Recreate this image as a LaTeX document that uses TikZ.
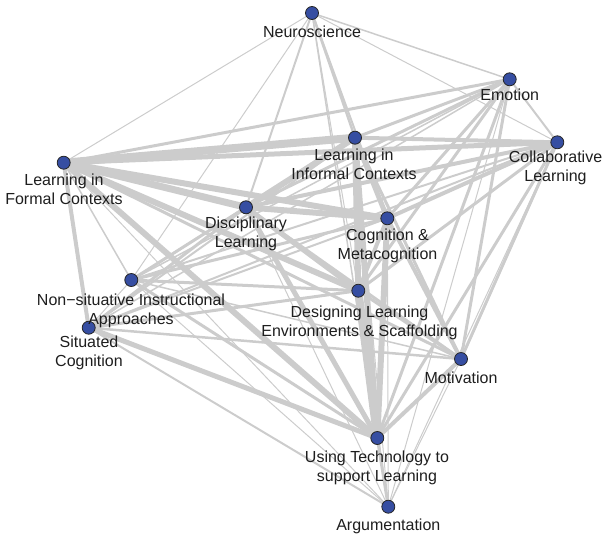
\documentclass[tikz,border=0pt]{standalone}
\usepackage{fontspec}
\setmainfont{Liberation Sans}
\usetikzlibrary{backgrounds}
\definecolor{edgec}{RGB}{204,204,204}
\definecolor{nodec}{RGB}{54,78,162}
\definecolor{labc}{RGB}{30,30,30}
\begin{document}
\begin{tikzpicture}[x=1pt,y=-1pt,
  vert/.style={circle,fill=nodec,draw=black!85,line width=0.8pt,minimum size=13pt,inner sep=0pt},
  lab/.style={anchor=north,align=center,inner sep=0pt,text=labc,font=\fontsize{16}{19}\selectfont},
  link/.style={draw=edgec,line width=#1}]
\useasboundingbox (0,0) rectangle (604,536);
% vertices
\node[vert] (neuro) at (312,13) {};
\node[vert] (emo) at (509.7,79.3) {};
\node[vert] (inf) at (355,137.7) {};
\node[vert] (col) at (557.3,142.3) {};
\node[vert] (form) at (63.7,162.7) {};
\node[vert] (disc) at (246,207.3) {};
\node[vert] (cog) at (387.3,218.3) {};
\node[vert] (nons) at (131.3,280) {};
\node[vert] (des) at (358.3,290.7) {};
\node[vert] (sit) at (88.7,327.7) {};
\node[vert] (mot) at (461,359) {};
\node[vert] (tech) at (377.3,438) {};
\node[vert] (arg) at (388.3,506.7) {};
% labels
\node[lab] (lneuro) at (312,26.2) {Neuroscience};
\node[lab] (lemo) at (509.7,89.2) {Emotion};
\node[lab] (linf) at (354,149.2) {Learning in\\Informal Contexts};
\node[lab] (lcol) at (555.5,151.2) {Collaborative\\Learning};
\node[lab] (lcog) at (387.5,228.5) {Cognition \&\\Metacognition};
\node[lab] (lform) at (64,173.5) {Learning in\\Formal Contexts};
\node[lab] (ldisc) at (246,216.2) {Disciplinary\\Learning};
\node[lab] (lnons) at (131,293.5) {Non−situative Instructional\\Approaches};
\node[lab] (ldes) at (359.5,305.2) {Designing Learning\\Environments \& Scaffolding};
\node[lab] (lsit) at (89,335.8) {Situated\\Cognition};
\node[lab] (lmot) at (461,371.8) {Motivation};
\node[lab] (ltech) at (377,450.2) {Using Technology to\\support Learning};
\node[lab] (larg) at (388.3,518.5) {Argumentation};
% connectors
\begin{scope}[on background layer]
\foreach \a/\b/\w in {
  form/inf/8, form/col/5, form/disc/7, form/cog/6, form/des/6, form/tech/6,
  form/sit/4, form/emo/3, form/neuro/1, form/nons/1.5, form/mot/3, form/arg/1,
  disc/inf/6, disc/cog/6, disc/des/5, disc/tech/5, disc/col/4, disc/emo/3,
  disc/neuro/2, disc/nons/3, disc/sit/3, disc/mot/3, disc/arg/1,
  inf/cog/5, inf/des/6, inf/tech/6, inf/col/4, inf/emo/3, inf/neuro/2.5,
  inf/mot/3, inf/nons/2, inf/sit/2, inf/arg/1,
  cog/des/4, cog/tech/6, cog/mot/4, cog/col/4, cog/emo/3, cog/neuro/2,
  cog/nons/3, cog/sit/2, cog/arg/1,
  des/tech/8, des/mot/3, des/sit/3, des/nons/3, des/col/3, des/emo/3,
  des/neuro/1, des/arg/1,
  tech/sit/5, tech/nons/3, tech/mot/4, tech/col/3, tech/emo/3, tech/arg/3,
  tech/neuro/1.5,
  arg/sit/2, arg/mot/1, arg/emo/1, arg/col/1, arg/nons/1,
  emo/col/2, emo/neuro/1.5, neuro/col/1, neuro/nons/1,
  mot/col/3, mot/emo/3, mot/sit/2.5, mot/nons/1.5,
  nons/sit/1, nons/col/2, nons/emo/1.5, sit/col/2, sit/emo/1.5}
  \draw[link=\w pt] (\a.center) -- (\b.center);
\end{scope}
\end{tikzpicture}
\end{document}
